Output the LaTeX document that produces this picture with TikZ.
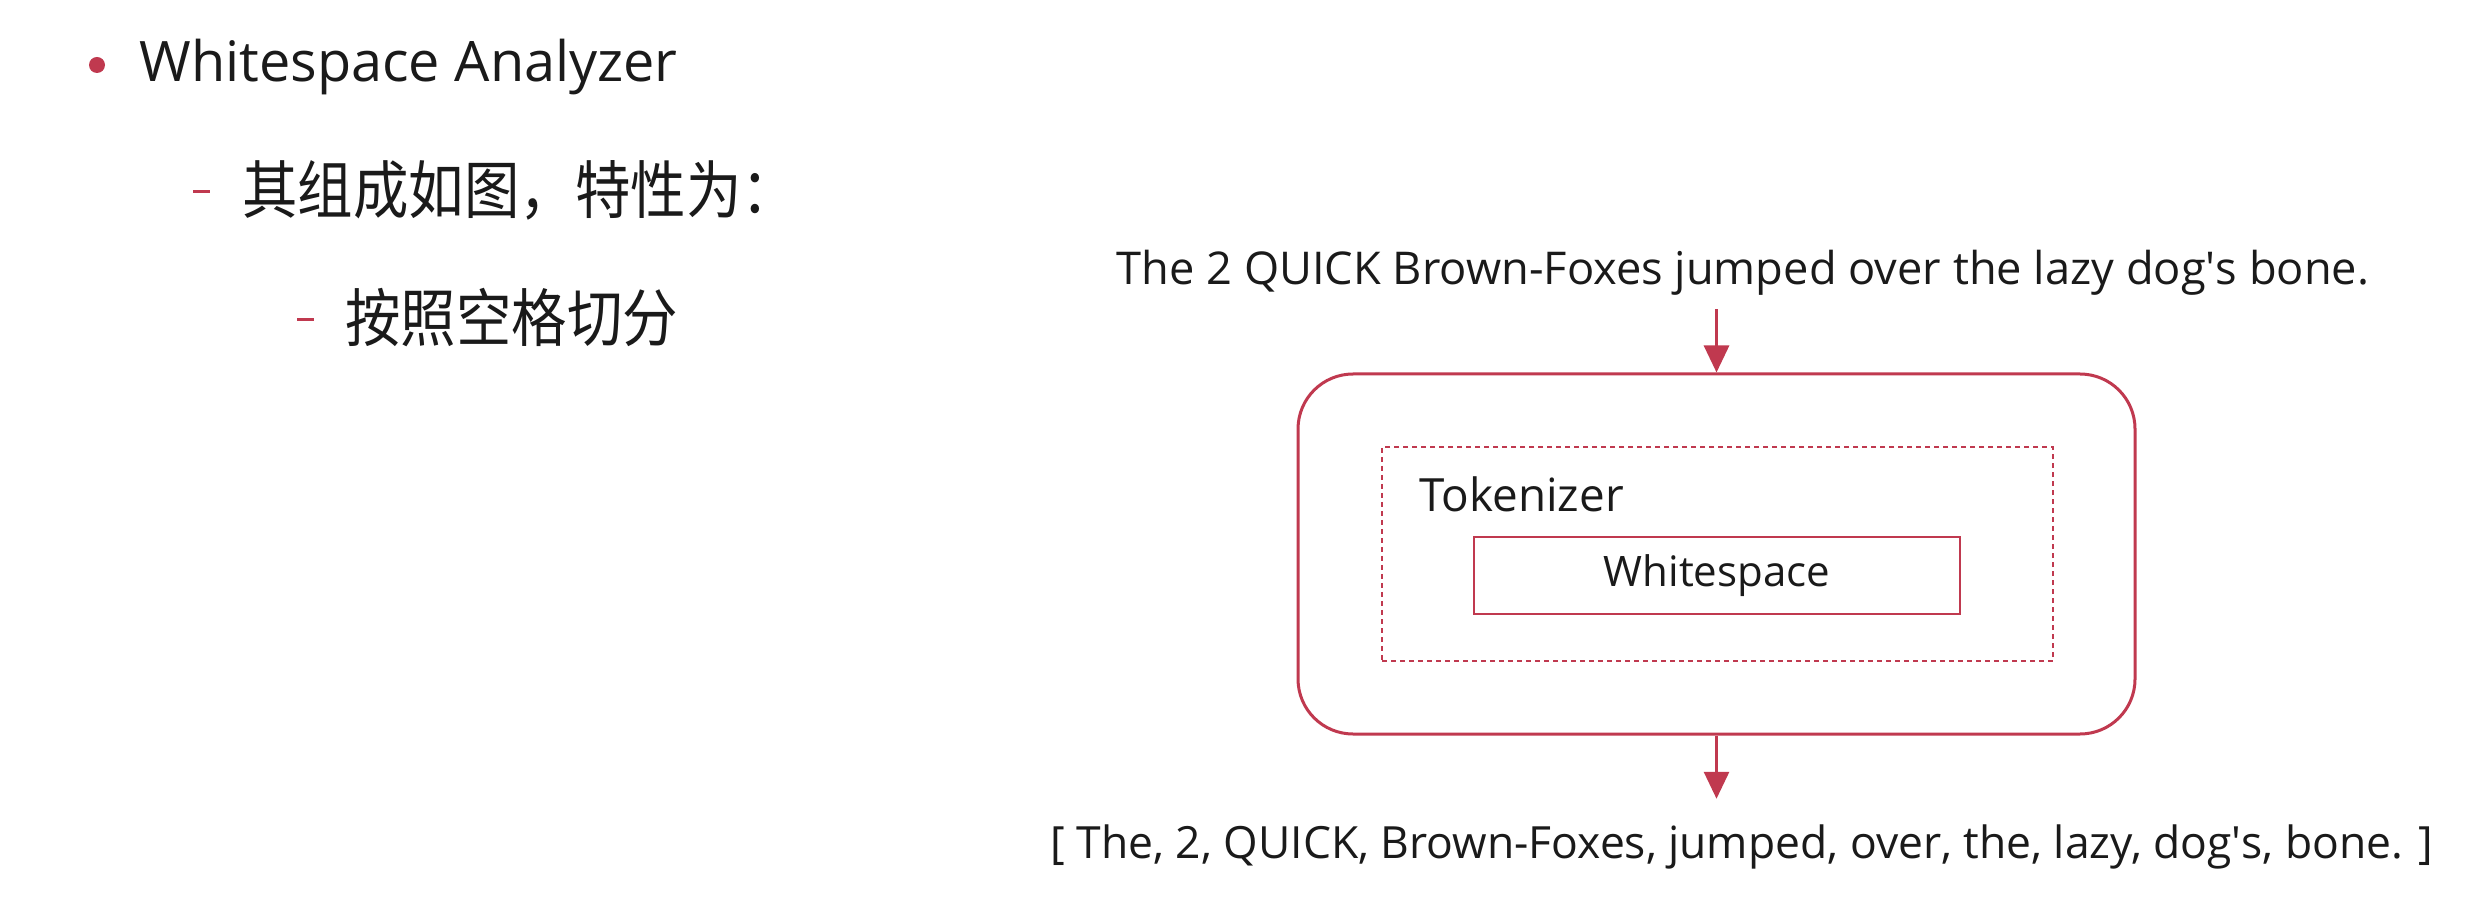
\documentclass[tikz,border=0pt]{standalone}
\usepackage{fontspec}
\setmainfont{Open Sans}
\newfontfamily\cjk{Noto Sans CJK SC}[FakeStretch=0.88]
\usepackage{tikz}
\usetikzlibrary{arrows.meta}
\usetikzlibrary{positioning}
\definecolor{slideRed}{HTML}{C0394F}
\definecolor{slideInk}{HTML}{1A1A1A}
\tikzset{
    plain/.style={text=slideInk, inner sep=0pt},
    dotmark/.style={circle, fill=slideRed, draw=none, minimum size=8pt, inner sep=0pt},
    dashmark/.style={rectangle, fill=slideRed, draw=none, minimum width=8.5pt, minimum height=1.5pt, inner sep=0pt},
    outerbox/.style={draw=slideRed, line width=1.5pt, rounded corners=27.5pt, inner sep=0pt},
    tokbox/.style={draw=slideRed, line width=1pt, dash pattern=on 2.5pt off 2pt, inner sep=0pt},
    wsbox/.style={draw=slideRed, line width=1.2pt, text=slideInk, inner sep=0pt},
  }
\newcommand{\titleFont}{\fontsize{27.9}{33}\selectfont}
\newcommand{\itemFont}{\cjk\fontsize{31.5}{37}\selectfont}
\newcommand{\sentFont}{\fontsize{22.6}{27}\selectfont}
\newcommand{\listFont}{\fontsize{22.2}{27}\selectfont}
\newcommand{\tokFont}{\fontsize{22.9}{28}\selectfont}
\newcommand{\wsFont}{\fontsize{21}{25}\selectfont}

\begin{document}
\begin{tikzpicture}[->,>={Triangle[length=13.5pt,width=12.5pt]},x=0.5pt,y=-0.5pt,line width=1.5pt,draw=slideRed]
  \useasboundingbox (0,0) rectangle (2476,908);
  % bullet list
  \node[dotmark] (dot) at (97,65) {};
  \node[plain, anchor=base west] (title) at (138,82) {\titleFont Whitespace Analyzer};
  \node[dashmark] (dashA) at (201,192) {};
  \node[plain, anchor=west] (itemA) at (241,190) {\itemFont 其组成如图，特性为：};
  \node[dashmark] (dashB) at (305,320) {};
  \node[plain, anchor=west] (itemB) at (344,318) {\itemFont 按照空格切分};

  % analyzer
  \node[plain, anchor=base] (inText) at (1743,285) {\sentFont The 2 QUICK Brown-Foxes jumped over the lazy dog\textquotesingle s bone.};
  \node[outerbox, minimum width=418.5pt, minimum height=180pt] (analyzer) at (1716.5,554) {};
  \node[tokbox, minimum width=335.5pt, minimum height=107pt] (tokenizer) at (1717.5,554) {};
  \node[plain, anchor=base west] (tokLabel) at (1418,511) {\tokFont Tokenizer};
  \node[wsbox, minimum width=243pt, minimum height=38.5pt] (whitespace) at (1717,575.5) {\wsFont Whitespace};
  \node[plain, anchor=base] (outText) at (1742,858) {\listFont [ The, 2, QUICK, Brown-Foxes, jumped, over, the, lazy, dog\textquotesingle s, bone. ]};

  \path (analyzer.north |- inText.south) edge[shorten <=6pt] (analyzer.north)
        (analyzer.south) edge[shorten >=12pt] (analyzer.south |- outText.north);
\end{tikzpicture}
\end{document}
